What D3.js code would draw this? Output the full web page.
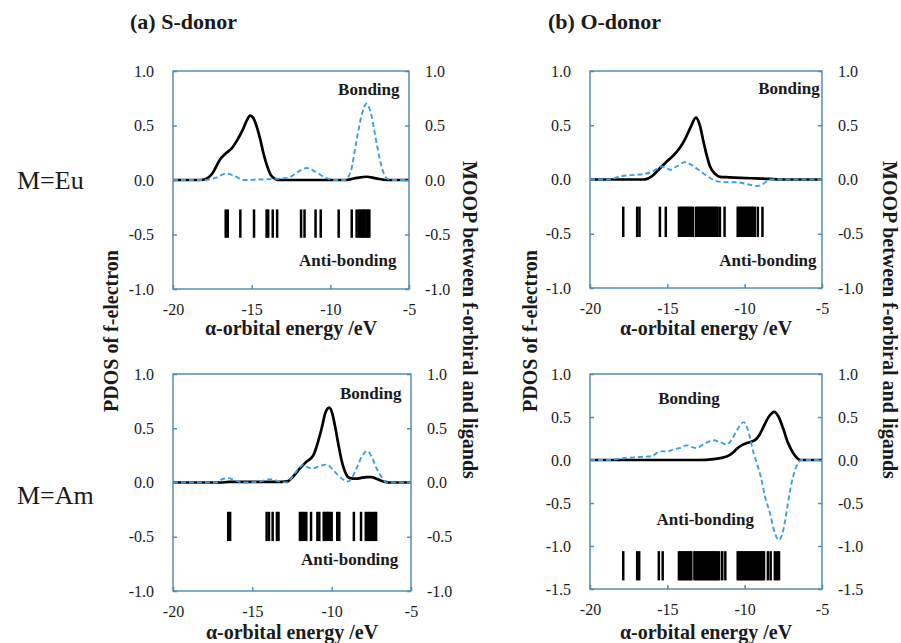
<!DOCTYPE html>
<html>
<head>
<meta charset="utf-8">
<script src="https://cdn.jsdelivr.net/npm/d3@7"></script>
<style>
  body { margin: 0; background: #fff; }
  svg text { font-family: "Liberation Serif", "Times New Roman", serif; fill: #1a1a1a; }
</style>
</head>
<body>
<svg id="chart" width="901" height="643"></svg>
<script>
// tick values
var xTicks = [-20, -15, -10, -5];
var yTicksS = [-1, -0.5, 0, 0.5, 1];
var yTicksO = [-1.5, -1, -0.5, 0, 0.5, 1];

// (a) S-donor, M=Eu  [energy eV, value]
var euS_pdos = [[-20,0],[-18.3,0],[-17.9,0.01],[-17.5,0.06],[-17.0,0.19],[-16.6,0.25],[-16.27,0.29],[-15.9,0.37],
  [-15.6,0.45],[-15.3,0.55],[-15.1,0.59],[-14.9,0.57],[-14.68,0.49],[-14.45,0.37],[-14.26,0.25],[-14.0,0.12],
  [-13.8,0.05],[-13.5,0.01],[-13.2,0],[-9.0,0],[-8.3,0.02],[-7.7,0.03],[-7.1,0.015],[-6.4,0],[-5,0]];
var euS_moop = [[-20,0],[-18,0],[-17.3,0.02],[-16.6,0.06],[-16.0,0.03],[-15.5,0],[-14.5,0.005],[-13.5,0.01],
  [-12.7,0.02],[-12.0,0.08],[-11.5,0.11],[-11.0,0.08],[-10.3,0.02],[-9.6,0],[-9.1,0],[-8.7,0.08],[-8.35,0.35],
  [-8.0,0.6],[-7.7,0.7],[-7.4,0.6],[-7.05,0.33],[-6.7,0.1],[-6.35,0.01],[-6.0,0],[-5,0]];
var euS_levels = [-16.65,-16.52,-15.72,-14.85,-14.05,-13.95,-13.66,-13.38,-11.86,-11.64,-10.94,-10.61,-9.47,
  -8.64,-8.33,-8.2,-8.12,-8.0,-7.9,-7.82,-7.7,-7.62,-7.52];

// (a) S-donor, M=Am
var amS_pdos = [[-20,0],[-17,0],[-16.5,0.005],[-13.5,0.005],[-12.8,0.01],[-12.4,0.06],[-12.0,0.13],[-11.6,0.19],
  [-11.16,0.25],[-10.85,0.38],[-10.63,0.5],[-10.4,0.64],[-10.15,0.69],[-9.95,0.63],[-9.79,0.52],[-9.55,0.33],
  [-9.37,0.2],[-9.1,0.08],[-8.85,0.04],[-8.5,0.035],[-8.2,0.04],[-7.8,0.05],[-7.5,0.05],[-7.1,0.03],[-6.75,0.01],
  [-6.4,0],[-5,0]];
var amS_moop = [[-20,0],[-17.3,0],[-16.9,0.03],[-16.52,0.04],[-16.1,0.02],[-15.5,0],[-14.5,0.01],[-13.89,0.03],
  [-13.3,0.01],[-12.8,0],[-12.4,0.07],[-12.0,0.14],[-11.79,0.165],[-11.5,0.14],[-11.16,0.13],[-10.8,0.15],
  [-10.31,0.165],[-10.0,0.13],[-9.68,0.08],[-9.3,0.03],[-8.95,0.01],[-8.7,0.05],[-8.43,0.13],[-8.1,0.24],
  [-7.76,0.29],[-7.45,0.23],[-7.17,0.13],[-6.85,0.05],[-6.54,0],[-5,0]];
var amS_levels = [-16.52,-16.4,-14.1,-13.95,-13.72,-13.45,-13.35,-12.0,-11.88,-11.75,-11.6,-11.3,-10.9,-10.78,
  -10.5,-10.4,-10.3,-10.22,-10.12,-10.0,-9.65,-9.52,-8.6,-8.15,-7.85,-7.72,-7.6,-7.45,-7.32,-7.2];

// (b) O-donor, M=Eu
var euO_pdos = [[-20,0],[-16.5,0],[-16.0,0.03],[-15.7,0.07],[-15.37,0.12],[-15.0,0.17],[-14.62,0.22],[-14.2,0.29],
  [-13.86,0.37],[-13.5,0.48],[-13.15,0.57],[-12.9,0.5],[-12.68,0.36],[-12.45,0.22],[-12.24,0.12],[-11.9,0.05],
  [-11.6,0.025],[-11.0,0.02],[-10.3,0.015],[-9.3,0.01],[-8.36,0.005],[-7.8,0],[-5,0]];
var euO_moop = [[-20,0],[-18.8,0],[-18.06,0.03],[-17.3,0.04],[-16.55,0.05],[-16.0,0.07],[-15.37,0.12],[-15.1,0.11],
  [-14.83,0.09],[-14.4,0.12],[-13.86,0.16],[-13.4,0.13],[-12.89,0.08],[-12.4,0.03],[-11.81,-0.015],[-11.2,-0.025],
  [-10.52,-0.025],[-9.9,-0.04],[-9.23,-0.06],[-8.8,-0.04],[-8.36,0],[-5,0]];
var euO_levels = [-17.85,-16.95,-16.8,-15.48,-15.1,
  -14.25,-14.15,-14.05,-13.95,-13.85,-13.75,-13.65,-13.55,-13.45,-13.35,
  -13.15,-13.05,-12.95,-12.85,-12.75,-12.65,-12.55,-12.45,-12.35,-12.25,-12.15,-12.05,-11.95,-11.85,-11.75,
  -11.6,-11.3,
  -10.45,-10.35,-10.25,-10.15,-10.05,-9.95,-9.85,-9.75,-9.65,-9.55,-9.45,-9.35,
  -9.15,-8.85];

// (b) O-donor, M=Am
var amO_pdos = [[-20,0],[-13,0],[-12.0,0.01],[-11.5,0.025],[-11.17,0.04],[-10.8,0.08],[-10.5,0.13],[-10.3,0.16],
  [-9.8,0.2],[-9.33,0.23],[-9.05,0.29],[-8.8,0.38],[-8.45,0.5],[-8.09,0.56],[-7.8,0.5],[-7.5,0.36],[-7.2,0.2],
  [-6.86,0.08],[-6.6,0.02],[-6.43,0],[-5,0]];
var amO_moop = [[-20,0],[-18.8,0],[-17.85,0.02],[-16.77,0.035],[-16.0,0.045],[-15.48,0.1],[-15.0,0.1],[-14.62,0.12],
  [-14.2,0.14],[-13.75,0.17],[-13.4,0.15],[-13.1,0.14],[-12.6,0.19],[-12.03,0.23],[-11.6,0.21],[-11.16,0.18],
  [-10.8,0.25],[-10.52,0.34],[-10.05,0.44],[-9.85,0.38],[-9.66,0.26],[-9.45,0.1],[-9.23,-0.03],[-8.95,-0.2],
  [-8.69,-0.42],[-8.36,-0.62],[-8.05,-0.85],[-7.78,-0.93],[-7.55,-0.85],[-7.4,-0.72],[-7.2,-0.5],[-7.07,-0.36],
  [-6.85,-0.18],[-6.64,-0.07],[-6.32,0],[-5,0]];
var amO_levels = [-17.85,-16.95,-16.82,-15.55,-15.3,
  -14.25,-14.15,-14.05,-13.95,-13.85,-13.75,-13.65,-13.55,-13.45,
  -13.25,-13.15,-13.05,-12.95,-12.85,-12.75,-12.65,-12.55,-12.45,-12.35,-12.25,-12.15,-12.05,-11.95,-11.85,-11.75,-11.65,
  -11.45,-11.25,
  -10.45,-10.35,-10.25,-10.15,-10.05,-9.95,-9.85,-9.75,-9.65,-9.55,-9.45,-9.35,-9.25,-9.15,-9.05,-8.95,-8.85,-8.75,
  -8.5,-8.32,-8.05,-7.92,-7.78];

var serif = "'Liberation Serif', 'Times New Roman', serif";
var svg = d3.select("#chart");
var frameColor = "#4f87ad", tickColor = "#4a93c8", blue = "#3d9fe2";

var panels = [
  {left:173, right:409, top:71, bottom:289, yDomain:[-1,1], yTicks:yTicksS,
   pdos:euS_pdos, moop:euS_moop, levels:euS_levels, levelSpan:[-0.27,-0.53],
   bond:[-5.6,0.83,"end"], anti:[-5.8,-0.73,"end"], titleGap:46},
  {left:173, right:411, top:374, bottom:591, yDomain:[-1,1], yTicks:yTicksS,
   pdos:amS_pdos, moop:amS_moop, levels:amS_levels, levelSpan:[-0.27,-0.54],
   bond:[-5.6,0.82,"end"], anti:[-5.8,-0.71,"end"], titleGap:48},
  {left:590, right:822, top:71, bottom:288, yDomain:[-1,1], yTicks:yTicksS,
   pdos:euO_pdos, moop:euO_moop, levels:euO_levels, levelSpan:[-0.25,-0.53],
   bond:[-5.15,0.84,"end"], anti:[-5.35,-0.74,"end"], titleGap:47},
  {left:590, right:822, top:374, bottom:589, yDomain:[-1.5,1], yTicks:yTicksO,
   pdos:amO_pdos, moop:amO_moop, levels:amO_levels, levelSpan:[-1.06,-1.4],
   bond:[-13.6,0.72,"middle"], anti:[-12.55,-0.69,"middle"], titleGap:50}
];

panels.forEach(function(p) {
  var x = d3.scaleLinear().domain([-20, -5]).range([p.left, p.right]);
  var y = d3.scaleLinear().domain(p.yDomain).range([p.bottom, p.top]);
  var g = svg.append("g");

  // energy levels
  g.selectAll(".lvl").data(p.levels).enter().append("line")
    .attr("x1", function(d) { return x(d); }).attr("x2", function(d) { return x(d); })
    .attr("y1", y(p.levelSpan[0])).attr("y2", y(p.levelSpan[1]))
    .attr("stroke", "#000").attr("stroke-width", 2.5);

  var line = d3.line()
    .x(function(d) { return x(d[0]); })
    .y(function(d) { return y(d[1]); })
    .curve(d3.curveMonotoneX);

  g.append("path").datum(p.pdos).attr("d", line)
    .attr("fill", "none").attr("stroke", "#000").attr("stroke-width", 2.7);
  g.append("path").datum(p.moop).attr("d", line)
    .attr("fill", "none").attr("stroke", blue).attr("stroke-width", 1.9)
    .attr("stroke-dasharray", "5,3");

  // axes
  var fmtY = function(d) { return d.toFixed(1); };
  var left = g.append("g").attr("transform", "translate(" + p.left + ",0)")
    .call(d3.axisLeft(y).tickValues(p.yTicks).tickFormat(fmtY).tickSize(-4).tickPadding(19));
  var right = g.append("g").attr("transform", "translate(" + p.right + ",0)")
    .call(d3.axisRight(y).tickValues(p.yTicks).tickFormat(fmtY).tickSize(-4).tickPadding(16));
  var bottom = g.append("g").attr("transform", "translate(0," + p.bottom + ")")
    .call(d3.axisBottom(x).tickValues(xTicks).tickFormat(function(d) { return String(d); })
      .tickSize(-4).tickPadding(15));
  [left, right, bottom].forEach(function(a) {
    a.attr("font-family", serif).attr("font-size", 16);
    a.select(".domain").remove();
    a.selectAll(".tick line").attr("stroke", tickColor).attr("stroke-width", 1.5);
    a.selectAll(".tick text").attr("font-family", serif).attr("font-size", 16)
      .style("font-family", serif).attr("fill", "#1a1a1a");
  });

  g.append("rect")
    .attr("x", p.left).attr("y", p.top)
    .attr("width", p.right - p.left).attr("height", p.bottom - p.top)
    .attr("fill", "none").attr("stroke", frameColor).attr("stroke-width", 1.4);

  g.append("text").attr("x", x(p.bond[0])).attr("y", y(p.bond[1])).attr("dy", "0.35em")
    .attr("text-anchor", p.bond[2]).style("font-weight", "bold").style("font-size", "17px")
    .text("Bonding");
  g.append("text").attr("x", x(p.anti[0])).attr("y", y(p.anti[1])).attr("dy", "0.35em")
    .attr("text-anchor", p.anti[2]).style("font-weight", "bold").style("font-size", "17px")
    .text("Anti-bonding");

  g.append("text").attr("x", (p.left + p.right) / 2).attr("y", p.bottom + p.titleGap)
    .attr("text-anchor", "middle").style("font-weight", "bold").style("font-size", "20px")
    .text("α-orbital energy /eV");
});

// titles and side labels
svg.append("text").attr("x", 130).attr("y", 29).style("font-weight", "bold").style("font-size", "22px")
  .text("(a) S-donor");
svg.append("text").attr("x", 548).attr("y", 29).style("font-weight", "bold").style("font-size", "22px")
  .text("(b) O-donor");

svg.append("text").attr("x", 17).attr("y", 189).style("font-size", "26px").text("M=Eu");
svg.append("text").attr("x", 17).attr("y", 504).style("font-size", "26px").text("M=Am");

[118, 537].forEach(function(cx) {
  svg.append("text").attr("transform", "translate(" + cx + ",331) rotate(-90)")
    .attr("text-anchor", "middle").style("font-weight", "bold").style("font-size", "20px")
    .text("PDOS of f-electron");
});
[463, 883].forEach(function(cx) {
  svg.append("text").attr("transform", "translate(" + cx + ",320) rotate(90)")
    .attr("text-anchor", "middle").style("font-weight", "bold").style("font-size", "20px")
    .text("MOOP between f-orbiral and ligands");
});
</script>
</body>
</html>
